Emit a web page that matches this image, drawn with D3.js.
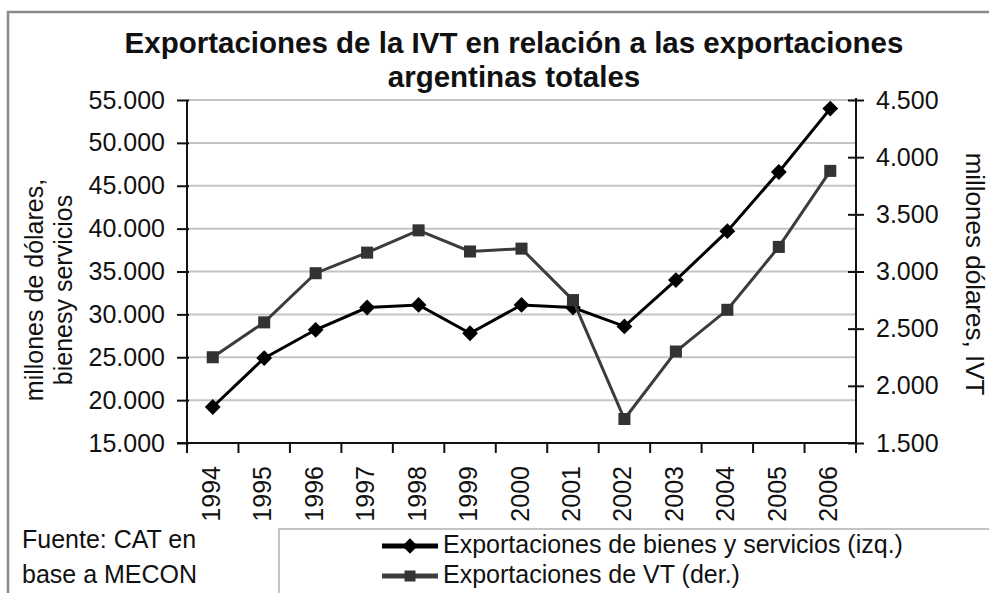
<html>
  <head>
    <meta charset="utf-8">
    <title>Exportaciones IVT</title>
    <script src="https://cdn.jsdelivr.net/npm/d3@7"></script>
    <style>
body { margin: 0; background: #fff; }
text { font-family: "Liberation Sans", Arial, sans-serif; fill: #111; }
.grid { stroke: #c4c4c4; stroke-width: 2px; }
.axis { stroke: #111; stroke-width: 2px; }
    </style>
  </head>
  <body>
    <script>

var years = ["1994","1995","1996","1997","1998","1999","2000","2001","2002","2003","2004","2005","2006"];
// exportaciones de bienes y servicios, millones USD (eje izq.)
var bienes = [19200, 24900, 28200, 30800, 31100, 27800, 31100, 30800, 28600, 34000, 39700, 46600, 54000];
// exportaciones de VT, millones USD (eje der.)
var vt = [2250, 2555, 2985, 3165, 3360, 3175, 3200, 2750, 1710, 2300, 2665, 3215, 3880];
var leftTicks = [15000, 20000, 25000, 30000, 35000, 40000, 45000, 50000, 55000];
var rightTicks = [1500, 2000, 2500, 3000, 3500, 4000, 4500];
var titleLines = ["Exportaciones de la IVT en relación a las exportaciones", "argentinas totales"];
var legendLabels = ["Exportaciones de bienes y servicios (izq.)", "Exportaciones de VT (der.)"];

var width = 989, height = 593;
var pLeft = 187, pRight = 856, pTop = 100, pBottom = 443;

var es = d3.formatLocale({decimal: ",", thousands: ".", grouping: [3], currency: ["$", ""]});
var fmt = es.format(",d");

var svg = d3.select("body").append("svg")
    .attr("width", width)
    .attr("height", height);

// marco exterior
svg.append("rect")
    .attr("x", 8).attr("y", 12)
    .attr("width", 1000).attr("height", 600)
    .attr("fill", "#fff")
    .attr("stroke", "#8a8a8a").attr("stroke-width", 2.5);

var x = d3.scaleBand().domain(years).range([pLeft, pRight]);
var yL = d3.scaleLinear().domain([15000, 55000]).range([pBottom, pTop]);
var yR = d3.scaleLinear().domain([1500, 4500]).range([pBottom, pTop]);
var cx = function(d, i) { return x(years[i]) + x.bandwidth() / 2; };

// titulo
svg.selectAll(".title").data(titleLines).enter().append("text")
    .attr("x", 514)
    .attr("y", function(d, i) { return 53 + i * 34; })
    .attr("text-anchor", "middle")
    .style("font-weight", "bold")
    .style("font-size", "29.5px")
    .text(function(d) { return d; });

// grilla
svg.selectAll(".grid").data(leftTicks.slice(1)).enter().append("line")
    .attr("class", "grid")
    .attr("x1", pLeft).attr("x2", pRight)
    .attr("y1", function(d) { return yL(d); })
    .attr("y2", function(d) { return yL(d); });

// eje izquierdo
var gL = svg.append("g").attr("transform", "translate(" + pLeft + ",0)")
    .call(d3.axisLeft(yL).tickValues(leftTicks).tickFormat(fmt).tickSize(10).tickPadding(12));
gL.select(".domain").remove();
gL.selectAll(".tick line").attr("x1", 2).attr("stroke", "#111").attr("stroke-width", 2);
gL.selectAll(".tick text").style("font-size", "25px").attr("fill", "#111");
svg.append("line").attr("class", "axis")
    .attr("x1", pLeft).attr("x2", pLeft).attr("y1", pTop).attr("y2", pBottom + 2);

// eje derecho
var gR = svg.append("g").attr("transform", "translate(" + pRight + ",0)")
    .call(d3.axisRight(yR).tickValues(rightTicks).tickFormat(fmt).tickSize(8).tickPadding(12));
gR.select(".domain").remove();
gR.selectAll(".tick line").attr("x1", -8).attr("stroke", "#111").attr("stroke-width", 2);
gR.selectAll(".tick text").style("font-size", "25px").attr("fill", "#111");
svg.append("line").attr("class", "axis")
    .attr("x1", pRight).attr("x2", pRight).attr("y1", pTop - 2).attr("y2", pBottom + 10);

// eje x
svg.append("line").attr("class", "axis")
    .attr("x1", pLeft - 10).attr("x2", pRight).attr("y1", pBottom).attr("y2", pBottom);
svg.selectAll(".xtick").data(years.concat(["end"])).enter().append("line")
    .attr("class", "axis")
    .attr("x1", function(d) { return d === "end" ? pRight : x(d); })
    .attr("x2", function(d) { return d === "end" ? pRight : x(d); })
    .attr("y1", pBottom).attr("y2", pBottom + 10);
svg.selectAll(".xlabel").data(years).enter().append("text")
    .attr("transform", function(d) {
      return "translate(" + (x(d) + x.bandwidth() / 2 + 7) + "," + (pBottom + 23) + ") rotate(-90)";
    })
    .attr("text-anchor", "end")
    .style("font-size", "25px")
    .text(function(d) { return d; });

// titulos de ejes
var yt = svg.append("g").attr("transform", "translate(43,290) rotate(-90)");
yt.append("text").attr("text-anchor", "middle").style("font-size", "25px").text("millones de dólares,");
yt.append("text").attr("y", 29).attr("text-anchor", "middle").style("font-size", "25px").text("bienesy servicios");
svg.append("text")
    .attr("transform", "translate(966,274) rotate(90)")
    .attr("text-anchor", "middle")
    .style("font-size", "26px")
    .text("millones dólares, IVT");

// series
var lineL = d3.line().x(cx).y(function(d) { return yL(d); });
var lineR = d3.line().x(cx).y(function(d) { return yR(d); });

svg.append("path").datum(bienes)
    .attr("d", lineL).attr("fill", "none").attr("stroke", "#000").attr("stroke-width", 3);
svg.selectAll(".dia").data(bienes).enter().append("path")
    .attr("transform", function(d, i) { return "translate(" + cx(d, i) + "," + yL(d) + ") rotate(45)"; })
    .attr("d", d3.symbol(d3.symbolSquare, 125))
    .attr("fill", "#000");

svg.append("path").datum(vt)
    .attr("d", lineR).attr("fill", "none").attr("stroke", "#3c3c3c").attr("stroke-width", 3);
svg.selectAll(".sq").data(vt).enter().append("path")
    .attr("transform", function(d, i) { return "translate(" + cx(d, i) + "," + yR(d) + ")"; })
    .attr("d", d3.symbol(d3.symbolSquare, 145))
    .attr("fill", "#333");

// fuente
svg.append("text").attr("x", 22).attr("y", 548).style("font-size", "25px").text("Fuente: CAT en");
svg.append("text").attr("x", 22).attr("y", 583).style("font-size", "25px").text("base a MECON");

// leyenda
svg.append("rect")
    .attr("x", 279).attr("y", 529).attr("width", 800).attr("height", 100)
    .attr("fill", "#fff").attr("stroke", "#c4c4c4").attr("stroke-width", 2);
var leg = svg.selectAll(".leg").data(legendLabels).enter().append("g")
    .attr("transform", function(d, i) { return "translate(0," + (546 + i * 30) + ")"; });
leg.append("line")
    .attr("x1", 382).attr("x2", 438).attr("y1", 0).attr("y2", 0)
    .attr("stroke", function(d, i) { return i === 0 ? "#000" : "#3c3c3c"; })
    .attr("stroke-width", 5);
leg.append("path")
    .attr("transform", function(d, i) { return "translate(410,0)" + (i === 0 ? " rotate(45)" : ""); })
    .attr("d", d3.symbol(d3.symbolSquare, 120))
    .attr("fill", function(d, i) { return i === 0 ? "#000" : "#333"; });
leg.append("text")
    .attr("x", 443).attr("y", 7)
    .style("font-size", "25px")
    .text(function(d) { return d; });

</script>
  </body>
</html>
